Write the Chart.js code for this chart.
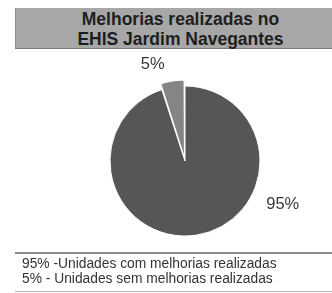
<!DOCTYPE html>
<html lang="pt">
<head>
    <meta charset="UTF-8">
    <title>Melhorias realizadas no EHIS Jardim Navegantes</title>
    <script src="https://cdn.jsdelivr.net/npm/chart.js"></script>
    <style>
        html, body {
            margin: 0;
            padding: 0;
            background: #fff;
            overflow: hidden;
        }
        body {
            width: 332px;
            height: 293px;
            position: relative;
            font-family: "Liberation Sans", Arial, sans-serif;
        }
        .title {
            position: absolute;
            left: 15px;
            top: 8px;
            width: 330px;
            height: 41px;
            background: #a7a7a7;
            border-bottom: 1px solid #7a7a7a;
            border-left: 1px solid #8c8c8c;
            color: #1e1e1e;
            font-weight: bold;
            font-size: 17.5px;
            line-height: 20px;
            text-align: center;
            padding-top: 1px;
            box-sizing: border-box;
            z-index: 2;
        }
        .title span { display: block; }
        .wrap {
            position: absolute;
            left: 0;
            top: 0;
            width: 332px;
            height: 293px;
        }
        .notes {
            position: absolute;
            left: 15px;
            top: 252px;
            width: 330px;
            height: 40px;
            border-top: 2px solid #8a8a8a;
            border-bottom: 1px solid #b8b8b8;
            box-sizing: border-box;
            padding: 2px 0 0 7px;
            font-size: 13.8px;
            line-height: 15px;
            color: #333;
        }
    </style>
</head>
<body>

<div class="title">
    <span>Melhorias realizadas no</span>
    <span>EHIS Jardim Navegantes</span>
</div>

<div class="wrap">
    <canvas id="pieChart" width="332" height="293"></canvas>
</div>

<div class="notes" id="notes"></div>

<script>
    // data
    const labels = ['Unidades com melhorias realizadas', 'Unidades sem melhorias realizadas'];
    const values = [95, 5];
    const valueLabels = ['95%', '5%'];
    const noteLabels = ['95% -Unidades com melhorias realizadas', '5% - Unidades sem melhorias realizadas'];

    document.getElementById('notes').innerHTML = noteLabels.map(t => '<div>' + t + '</div>').join('');

    // draws the percent text outside each slice
    const outsideLabels = {
        id: 'outsideLabels',
        afterDatasetsDraw(chart, args, opts) {
            const ctx = chart.ctx;
            const meta = chart.getDatasetMeta(0);
            ctx.save();
            ctx.font = opts.font;
            ctx.fillStyle = opts.color;
            ctx.textAlign = 'center';
            ctx.textBaseline = 'middle';
            meta.data.forEach((arc, i) => {
                const p = arc.getProps(['x', 'y', 'startAngle', 'endAngle', 'outerRadius'], true);
                const mid = (p.startAngle + p.endAngle) / 2;
                const off = arc.options.offset || 0;
                const cx = p.x + Math.cos(mid) * off;
                const cy = p.y + Math.sin(mid) * off;
                const a = opts.angles[i] * Math.PI / 180;
                const d = p.outerRadius + opts.gaps[i];
                ctx.fillText(valueLabels[i], cx + Math.cos(a) * d, cy + Math.sin(a) * d);
            });
            ctx.restore();
        }
    };

    new Chart(document.getElementById('pieChart'), {
        type: 'pie',
        data: {
            labels: labels,
            datasets: [{
                data: values,
                backgroundColor: ['#565656', '#858585'],
                borderColor: '#ffffff',
                borderWidth: 1,
                offset: [0, 14]
            }]
        },
        options: {
            responsive: false,
            animation: false,
            radius: 75,
            layout: { padding: { left: 38, top: 29, right: 0, bottom: 0 } },
            plugins: {
                legend: { display: false },
                tooltip: { enabled: false },
                outsideLabels: {
                    font: '16.5px "Liberation Sans", Arial, sans-serif',
                    color: '#383838',
                    angles: [24, -110],
                    gaps: [32, 13]
                }
            }
        },
        plugins: [outsideLabels]
    });
</script>

</body>
</html>
